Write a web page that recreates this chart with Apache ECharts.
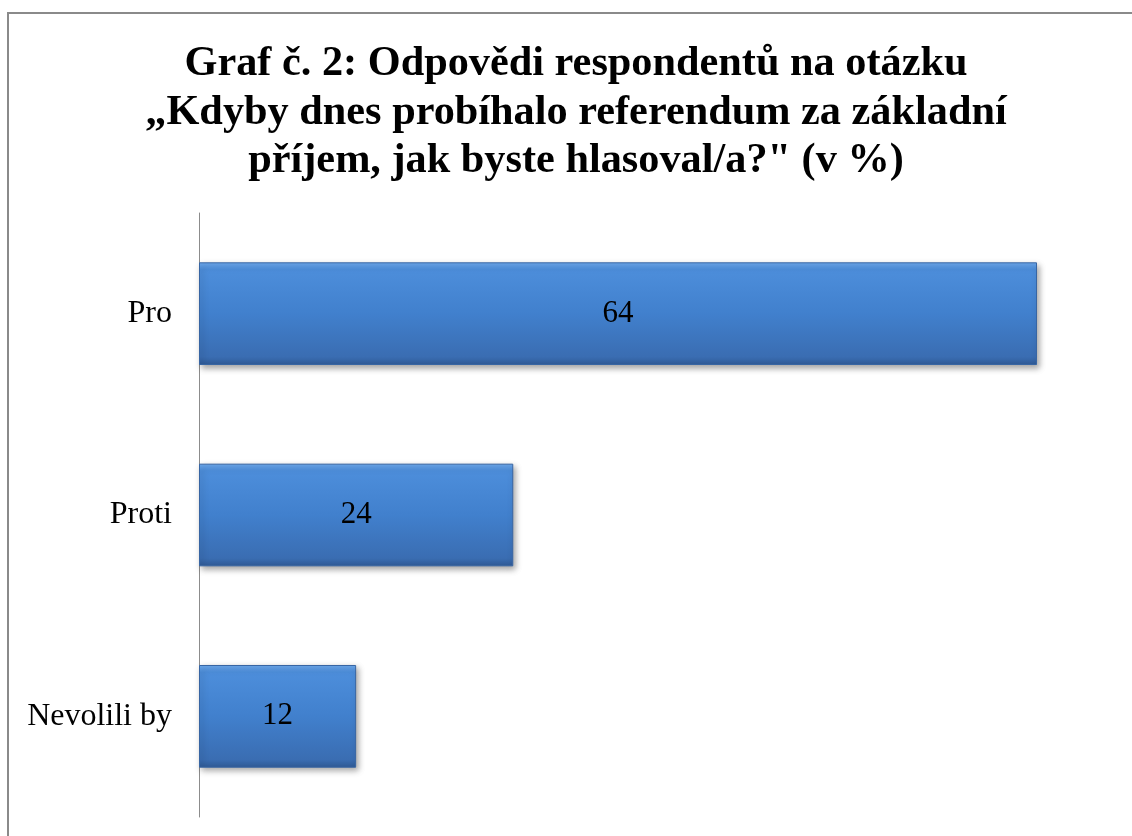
<!DOCTYPE html>
<html>
<head>
<meta charset="utf-8">
<script src="https://cdn.jsdelivr.net/npm/echarts@6/dist/echarts.min.js"></script>
<style>
html,body{margin:0;padding:0;background:#fff;}
#chart{width:1132px;height:836px;}
</style>
</head>
<body>
<div id="chart"></div>
<script>
const titleLines = [
  'Graf č. 2: Odpovědi respondentů na otázku',
  '„Kdyby dnes probíhalo referendum za základní',
  'příjem, jak byste hlasoval/a?" (v %)'
];
const categories = ['Pro', 'Proti', 'Nevolili by'];
const values = [64, 24, 12];

const serif = '"Liberation Serif", "Times New Roman", serif';
const chart = echarts.init(document.getElementById('chart'));
chart.setOption({
  backgroundColor: '#ffffff',
  animation: false,
  graphic: [{
    type: 'rect',
    shape: { x: 8, y: 13, width: 1300, height: 1000 },
    style: { fill: 'none', stroke: '#8a8a8a', lineWidth: 2 },
    silent: true
  }],
  title: {
    text: titleLines.join('\n'),
    left: 571,
    top: 35,
    textAlign: 'center',
    textStyle: {
      fontFamily: serif,
      fontWeight: 'bold',
      fontSize: 42.3,
      lineHeight: 48.5,
      color: '#000'
    }
  },
  grid: {
    left: 199, top: 213, width: 838, height: 604,
    outerBoundsMode: 'none'
  },
  xAxis: {
    type: 'value', min: 0, max: 64, show: false
  },
  yAxis: {
    type: 'category',
    data: categories,
    inverse: true,
    axisLine: { show: true, lineStyle: { color: '#8c8c8c', width: 1 } },
    axisTick: { show: false },
    splitLine: { show: false },
    axisLabel: {
      margin: 27,
      fontFamily: serif,
      fontSize: 32,
      color: '#000'
    }
  },
  series: [{
    type: 'bar',
    data: values,
    barCategoryGap: '49%',
    itemStyle: {
      color: new echarts.graphic.LinearGradient(0, 0, 0, 1, [
        { offset: 0, color: '#6eaaee' },
        { offset: 0.07, color: '#4d8edb' },
        { offset: 0.5, color: '#4180cd' },
        { offset: 0.92, color: '#3a6db2' },
        { offset: 1, color: '#2f5a96' }
      ]),
      borderColor: '#3765a3',
      borderWidth: 1,
      shadowColor: 'rgba(0,0,0,0.35)',
      shadowBlur: 6,
      shadowOffsetX: 2,
      shadowOffsetY: 3
    },
    label: {
      show: true,
      position: 'inside',
      fontFamily: serif,
      fontSize: 31,
      color: '#000'
    }
  }]
});
</script>
</body>
</html>
